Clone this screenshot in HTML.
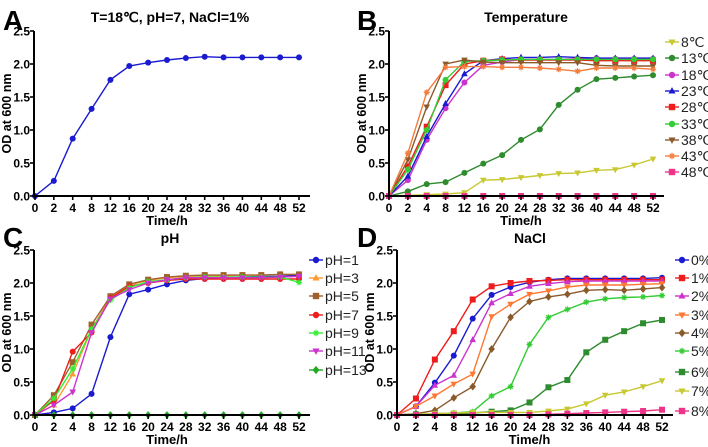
<!DOCTYPE html>
<html><head><meta charset="utf-8"><style>
body{margin:0;background:#fff;}
svg{display:block;font-family:"Liberation Sans",Arial,sans-serif;}
</style></head><body>
<svg id="chart" width="708" height="447" viewBox="0 0 708 447"></svg>
<script>
const timeLabels=["0","2","4","8","12","16","20","24","28","32","36","40","44","48","52"];
const yTicks=[0,0.5,1.0,1.5,2.0,2.5];
const aValues=[0,0.23,0.87,1.32,1.76,1.97,2.02,2.06,2.09,2.11,2.1,2.1,2.1,2.1,2.1];
const tempNames=["8℃","13℃","18℃","23℃","28℃","33℃","38℃","43℃","48℃"];
const t8=[0,0.01,0.02,0.03,0.05,0.24,0.25,0.28,0.31,0.34,0.35,0.39,0.40,0.47,0.56];
const t13=[0,0.07,0.18,0.21,0.35,0.49,0.62,0.85,1.01,1.38,1.61,1.77,1.79,1.81,1.83];
const t18=[0,0.24,0.85,1.33,1.72,1.98,2.03,2.07,2.07,2.07,2.08,2.09,2.08,2.08,2.08];
const t23=[0,0.3,0.9,1.4,1.85,2.05,2.08,2.1,2.1,2.11,2.1,2.09,2.09,2.09,2.09];
const t28=[0,0.45,1.05,1.68,2.0,2.05,2.07,2.06,2.06,2.06,2.06,2.05,2.05,2.05,2.05];
const t33=[0,0.4,1.0,1.76,2.04,2.05,2.06,2.07,2.07,2.07,2.07,2.07,2.07,2.07,2.07];
const t38=[0,0.55,1.35,2.0,2.06,2.03,2.02,2.02,2.02,2.02,2.02,1.98,1.97,1.97,1.97];
const t43=[0,0.65,1.57,1.95,1.96,1.96,1.95,1.95,1.94,1.92,1.89,1.94,1.94,1.94,1.92];
const t48=[0,0,0,0,0,0,0,0,0,0,0,0,0,0,0];
const phNames=["pH=1","pH=3","pH=5","pH=7","pH=9","pH=11","pH=13"];
const ph1=[0,0.04,0.1,0.32,1.18,1.83,1.9,1.98,2.04,2.07,2.09,2.09,2.1,2.1,2.12];
const ph3=[0,0.15,0.62,1.3,1.78,1.97,2.04,2.08,2.1,2.11,2.11,2.12,2.12,2.13,2.13];
const ph5=[0,0.3,0.8,1.37,1.8,1.98,2.05,2.09,2.11,2.12,2.12,2.12,2.12,2.13,2.13];
const ph7=[0,0.22,0.96,1.25,1.77,1.95,2.0,2.04,2.06,2.06,2.06,2.06,2.06,2.06,2.06];
const ph9=[0,0.25,0.7,1.3,1.74,1.93,2.02,2.05,2.08,2.09,2.09,2.09,2.09,2.09,2.01];
const ph11=[0,0.15,0.35,1.25,1.76,1.9,2.0,2.05,2.08,2.08,2.08,2.08,2.08,2.09,2.1];
const ph13=[0,0,0,0,0,0,0,0,0,0,0,0,0,0,0];
const naNames=["0%","1%","2%","3%","4%","5%","6%","7%","8%"];
const n0=[0,0.13,0.49,0.9,1.46,1.82,1.94,2.01,2.05,2.07,2.07,2.07,2.07,2.07,2.08];
const n1=[0,0.25,0.84,1.27,1.75,1.95,2.0,2.03,2.04,2.05,2.05,2.05,2.05,2.05,2.05];
const n2=[0,0.13,0.45,0.6,1.14,1.7,1.84,1.95,1.99,2.02,2.03,2.03,2.03,2.03,2.03];
const n3=[0,0.13,0.29,0.47,0.62,1.49,1.68,1.83,1.88,1.94,1.97,1.97,1.97,1.98,1.99];
const n4=[0,0.02,0.07,0.26,0.43,1.0,1.48,1.72,1.79,1.83,1.89,1.9,1.89,1.91,1.93];
const n5=[0,0.01,0.02,0.03,0.05,0.29,0.43,1.07,1.48,1.6,1.71,1.76,1.78,1.79,1.81];
const n6=[0,0.01,0.01,0.02,0.03,0.05,0.07,0.19,0.42,0.53,0.95,1.14,1.27,1.39,1.44];
const n7=[0,0.01,0.02,0.03,0.04,0.04,0.04,0.04,0.06,0.09,0.17,0.3,0.35,0.43,0.52];
const n8=[0,0,0,0,0,0,0,0,0.01,0.02,0.03,0.04,0.05,0.06,0.08];

const NS="http://www.w3.org/2000/svg";
const svg=document.getElementById('chart');
function el(tag,attrs,parent,text){const e=document.createElementNS(NS,tag);for(const k in attrs)e.setAttribute(k,attrs[k]);if(text!==undefined)e.textContent=text;(parent||svg).appendChild(e);return e;}
function marker(g,shape,cx,cy,r,color){
  let m;
  if(shape==='circle')m=el('circle',{cx:cx,cy:cy,r:r,fill:color},g);
  else if(shape==='square')m=el('rect',{x:cx-r,y:cy-r,width:2*r,height:2*r,fill:color},g);
  else if(shape==='tri')m=el('polygon',{points:`${cx},${cy-r*1.2} ${cx-r*1.1},${cy+r*0.8} ${cx+r*1.1},${cy+r*0.8}`,fill:color},g);
  else if(shape==='trid')m=el('polygon',{points:`${cx},${cy+r*1.2} ${cx-r*1.1},${cy-r*0.8} ${cx+r*1.1},${cy-r*0.8}`,fill:color},g);
  else if(shape==='diamond')m=el('polygon',{points:`${cx},${cy-r*1.3} ${cx+r*1.1},${cy} ${cx},${cy+r*1.3} ${cx-r*1.1},${cy}`,fill:color},g);
  else if(shape==='star'){m=el('path',{d:`M${cx-r},${cy}H${cx+r}M${cx},${cy-r}V${cy+r}M${cx-r*0.7},${cy-r*0.7}L${cx+r*0.7},${cy+r*0.7}M${cx+r*0.7},${cy-r*0.7}L${cx-r*0.7},${cy+r*0.7}`,stroke:color,'stroke-width':1.2},g);}
  
  
  return m;
}
function panel(p){
  const g=el('g',{});
  
  
  const xs=i=>p.x0+(p.x1-p.x0)*i/(timeLabels.length-1);
  const ys=v=>p.yb-(p.yb-p.yt)*v/2.5;
  el('text',{x:p.lx,y:p.ly,'font-size':28,'font-weight':'bold',},g,p.letter);
  el('text',{x:p.tx,y:p.ty,'font-size':14,'font-weight':'bold','text-anchor':'middle',},g,p.title);
  p.series.forEach((s,k)=>{
    const sg=el('g',{},g);
    
    
    const pts=s.v.map((v,i)=>xs(i).toFixed(1)+','+ys(v).toFixed(1)).join(' ');
    const line=el('polyline',{points:pts,fill:'none',stroke:s.c,'stroke-width':1.4},sg);
    
    
    s.v.forEach((v,i)=>marker(sg,s.m,xs(i),ys(v),p.mr||3,s.c));
  });
  el('line',{x1:p.ax,y1:p.yt,x2:p.ax,y2:p.yb,stroke:'#000','stroke-width':2,},g);
  el('line',{x1:p.ax,y1:p.yb,x2:p.x1+11,y2:p.yb,stroke:'#000','stroke-width':2,},g);
  yTicks.forEach(t=>{
    el('line',{x1:p.ax-4,y1:ys(t),x2:p.ax,y2:ys(t),stroke:'#000','stroke-width':1.6},g);
    el('text',{x:p.ax-4,y:ys(t)+4.3,'font-size':12,'font-weight':'bold','text-anchor':'end',},g,t.toFixed(1));
  });
  timeLabels.forEach((t,i)=>{
    el('line',{x1:xs(i),y1:p.yb,x2:xs(i),y2:p.yb+4,stroke:'#000','stroke-width':1.6},g);
    el('text',{x:xs(i),y:p.yb+16,'font-size':12,'font-weight':'bold','text-anchor':'middle',},g,t);
  });
  el('text',{x:(p.x0+p.x1)/2,y:p.yb+29,'font-size':13,'font-weight':'bold','text-anchor':'middle',},g,'Time/h');
  el('text',{x:0,y:0,'font-size':12.5,'font-weight':'bold','text-anchor':'middle',transform:`translate(${p.ax-23},${(p.yt+p.yb)/2}) rotate(-90)`,},g,'OD at 600 nm');
  if(p.legend){
    p.series.forEach((s,k)=>{
      const lg=el('g',{},g);
      
      
      const y=p.legend.y[k];
      el('line',{x1:p.legend.x-7,y1:y,x2:p.legend.x+7,y2:y,stroke:s.c,'stroke-width':1.4},lg);
      marker(lg,s.m,p.legend.x,y,3.2,s.c);
      el('text',{x:p.legend.x+9,y:y+5,'font-size':14,fill:'#222'},lg,s.n);
    });
  }
}
panel({letter:'A',lx:3,ly:30,title:'T=18℃, pH=7, NaCl=1%',tx:170,ty:22,ax:34,x0:35,x1:299,yt:31,yb:196,
  series:[{n:'A',v:aValues,c:'#1a1ad0',m:'circle'}]});
panel({letter:'B',lx:357,ly:30,title:'Temperature',tx:526,ty:22,ax:389,x0:389,x1:653,yt:31,yb:196,
  series:[
   {n:tempNames[0],v:t8,c:'#c8c832',m:'trid'},
   {n:tempNames[1],v:t13,c:'#2e8b2e',m:'circle'},
   {n:tempNames[2],v:t18,c:'#cc33cc',m:'circle'},
   {n:tempNames[3],v:t23,c:'#1a1ad0',m:'tri'},
   {n:tempNames[4],v:t28,c:'#ee1c1c',m:'square'},
   {n:tempNames[5],v:t33,c:'#33cc33',m:'circle'},
   {n:tempNames[6],v:t38,c:'#8b5a2b',m:'trid'},
   {n:tempNames[7],v:t43,c:'#f47c3c',m:'star'},
   {n:tempNames[8],v:t48,c:'#ee3388',m:'square'}],
  legend:{x:672,y:[42,58,75,91,107,124,140,156,172]}});
panel({letter:'C',lx:3,ly:247,title:'pH',tx:170,ty:243,ax:34,x0:35,x1:299,yt:250,yb:415,
  series:[
   {n:phNames[0],v:ph1,c:'#1a1ad0',m:'circle'},
   {n:phNames[1],v:ph3,c:'#ff9933',m:'tri'},
   {n:phNames[2],v:ph5,c:'#a0622d',m:'square'},
   {n:phNames[3],v:ph7,c:'#ee1c1c',m:'circle'},
   {n:phNames[4],v:ph9,c:'#33ee33',m:'star'},
   {n:phNames[5],v:ph11,c:'#cc33cc',m:'trid'},
   {n:phNames[6],v:ph13,c:'#22aa22',m:'diamond'}],
  legend:{x:316,y:[260,278,296,315,333,351,370]}});
panel({letter:'D',lx:357,ly:247,title:'NaCl',tx:530,ty:243,ax:397,x0:397,x1:662,yt:250,yb:415,
  series:[
   {n:naNames[0],v:n0,c:'#1a1ad0',m:'circle'},
   {n:naNames[1],v:n1,c:'#ee1c1c',m:'square'},
   {n:naNames[2],v:n2,c:'#cc33cc',m:'tri'},
   {n:naNames[3],v:n3,c:'#ff7733',m:'trid'},
   {n:naNames[4],v:n4,c:'#8b5a2b',m:'diamond'},
   {n:naNames[5],v:n5,c:'#33cc33',m:'star'},
   {n:naNames[6],v:n6,c:'#2e8b2e',m:'square'},
   {n:naNames[7],v:n7,c:'#c8c832',m:'trid'},
   {n:naNames[8],v:n8,c:'#ee3388',m:'square'}],
  legend:{x:682,y:[260,278,296,315,333,351,372,391,411]}});
</script>
</body></html>
